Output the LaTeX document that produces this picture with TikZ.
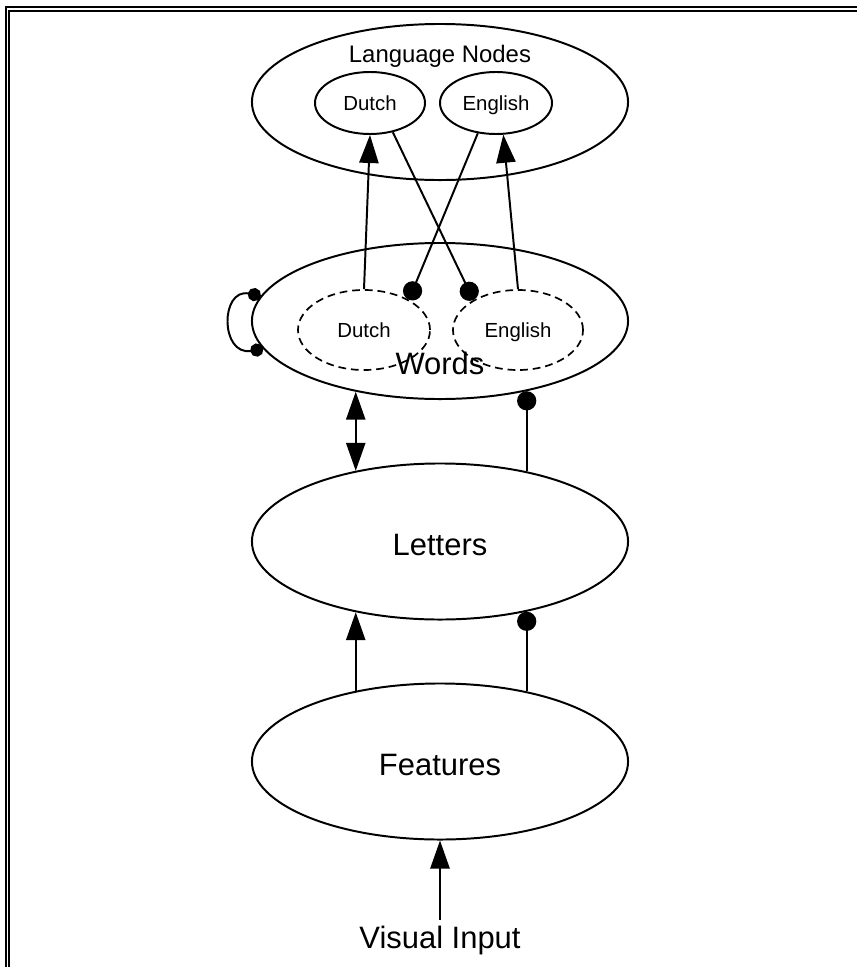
\documentclass[tikz,border=0pt]{standalone}
\usepackage{fontspec}
\setmainfont{Liberation Sans}
\usetikzlibrary{arrows.meta,shapes.geometric}

\begin{document}
\begin{tikzpicture}[x=0.025cm, y=-0.025cm, line width=1.4pt,
  >={Triangle[length=0.7cm,width=0.48cm]},
  big/.style={ellipse, draw, inner sep=0pt, minimum width=9.4cm, minimum height=3.9cm,
    text height=20pt, text depth=0pt, font=\fontsize{22}{26}\selectfont},
  small/.style={ellipse, draw, inner sep=0pt, minimum width=2.75cm, minimum height=1.55cm,
    text height=10.4pt, text depth=0pt, font=\fontsize{14.5}{17}\selectfont},
  sub/.style={small, line width=1.2pt, dash pattern=on 5.5pt off 3.5pt,
    minimum width=3.3cm, minimum height=2cm},
  inh/.style={-{Circle[length=0.48cm]}},
  selfinh/.style={{Circle[length=0.33cm]}-{Circle[length=0.33cm]}}]
% рамка
\useasboundingbox (0,0) rectangle (857,967);
\draw (6,967) -- (6,7) -- (857,7);
\draw (9,967) -- (9,11) -- (857,11);
% уровни
\node [big] (lang) at (440,102) {};
\node [small] (ldutch) at (370,103) {Dutch};
\node [small, minimum width=2.8cm] (lenglish) at (496,103) {English};
\node [big] (words) at (440,321) {};
\node [sub] (wdutch) at (364,330) {Dutch};
\node [sub, minimum width=3.25cm] (wenglish) at (518,330) {English};
\node [big] (letters) at (440,541.5) {Letters};
\node [big] (features) at (440,761.5) {Features};
% подписи
\node [anchor=base, font=\fontsize{17}{20}\selectfont] (langtitle) at (440,62) {Language Nodes};
\node [anchor=base, font=\fontsize{22}{26}\selectfont] (wordstitle) at (440,374) {Words};
\node [anchor=base, font=\fontsize{22}{26}\selectfont] (input) at (440,948) {Visual Input};
% связи
\draw [->] (wdutch.north) -- (ldutch.south);
\draw [->] (wenglish.north) -- (lenglish.-77);
\draw [inh] (ldutch.-52) -- (wenglish.146);
\draw [inh] (lenglish.-121) -- (wdutch.34);
\draw [selfinh] (words.172) .. controls (220,288) and (220,356) .. (words.189);
\draw [<->] (words.220) -- (letters.140);
\draw [inh] (letters.39) -- (words.321);
\draw [->] (features.140) -- (letters.220);
\draw [inh] (features.39) -- (letters.321);
\draw [->] (input.north) -- (features.south);
\end{tikzpicture}
\end{document}
